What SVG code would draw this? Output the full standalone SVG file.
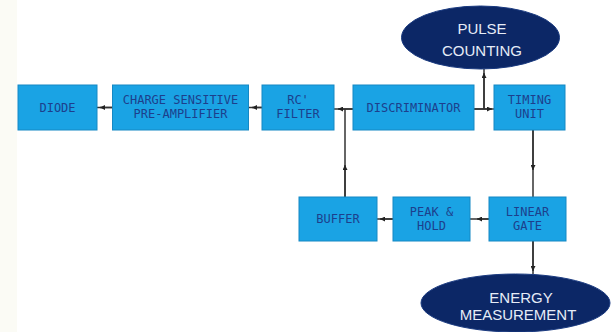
<svg xmlns="http://www.w3.org/2000/svg" width="611" height="332" viewBox="0 0 611 332">
<style>
.box{fill:#1aa3e4;stroke:#1588c4;stroke-width:1}
.bt{font-family:"DejaVu Sans Mono","Liberation Mono",monospace;font-size:12px;fill:#1d3f8c;text-anchor:middle;dominant-baseline:central}
.ell{fill:#0c2766;stroke:#1a3a80;stroke-width:1}
.et{font-family:"Liberation Sans",Arial,sans-serif;font-size:15px;fill:#e6ecf7;text-anchor:middle;dominant-baseline:central}
.ln{stroke:#333;stroke-width:1.5;fill:none}
</style>
<defs>
<marker id="ah" markerUnits="userSpaceOnUse" markerWidth="6" markerHeight="5" refX="5" refY="2.5" orient="auto">
<path d="M0,0 L5,2.5 L0,5 z" fill="#222"/>
</marker>
</defs>
<rect x="0" y="0" width="611" height="332" fill="#ffffff"/>
<rect x="0" y="0" width="17" height="332" fill="#fbfbf5"/>
<g id="connectors">
<line class="ln" x1="112" y1="107.5" x2="97" y2="107.5"/>
<line class="ln" x1="112" y1="107.5" x2="100" y2="107.5" marker-end="url(#ah)"/>
<line class="ln" x1="262" y1="107.5" x2="248" y2="107.5"/>
<line class="ln" x1="262" y1="107.5" x2="252" y2="107.5" marker-end="url(#ah)"/>
<line class="ln" x1="353" y1="109" x2="334" y2="109"/>
<line class="ln" x1="353" y1="109" x2="338" y2="109" marker-end="url(#ah)"/>
<line class="ln" x1="345" y1="109" x2="345" y2="197"/>
<line class="ln" x1="345" y1="197" x2="345" y2="165" marker-end="url(#ah)"/>
<line class="ln" x1="474" y1="109" x2="494" y2="109"/>
<line class="ln" x1="474" y1="109" x2="492" y2="109" marker-end="url(#ah)"/>
<line class="ln" x1="484" y1="109" x2="484" y2="69"/>
<line class="ln" x1="484" y1="109" x2="484" y2="73" marker-end="url(#ah)"/>
<line class="ln" x1="533" y1="130" x2="533" y2="197"/>
<line class="ln" x1="533" y1="130" x2="533" y2="170" marker-end="url(#ah)"/>
<line class="ln" x1="393" y1="219" x2="377" y2="219"/>
<line class="ln" x1="393" y1="219" x2="380" y2="219" marker-end="url(#ah)"/>
<line class="ln" x1="489" y1="219" x2="470" y2="219"/>
<line class="ln" x1="489" y1="219" x2="477" y2="219" marker-end="url(#ah)"/>
<line class="ln" x1="533" y1="241" x2="533" y2="274"/>
<line class="ln" x1="533" y1="241" x2="533" y2="271" marker-end="url(#ah)"/>
</g>
<g id="diode"><rect class="box" x="18" y="85" width="79" height="45"/><text class="bt" x="57.5" y="107.5">DIODE</text></g>
<g id="preamp"><rect class="box" x="112.5" y="85" width="136" height="45"/><text class="bt" x="180.5" y="100">CHARGE SENSITIVE</text><text class="bt" x="180.5" y="114">PRE-AMPLIFIER</text></g>
<g id="rcfilter"><rect class="box" x="262" y="85" width="72" height="45"/><text class="bt" x="298" y="100">RC'</text><text class="bt" x="298" y="114">FILTER</text></g>
<g id="discriminator"><rect class="box" x="353" y="85" width="121" height="45"/><text class="bt" x="413.5" y="107.5">DISCRIMINATOR</text></g>
<g id="timing"><rect class="box" x="494" y="85" width="71" height="45"/><text class="bt" x="529.5" y="100">TIMING</text><text class="bt" x="529.5" y="114">UNIT</text></g>
<g id="buffer"><rect class="box" x="299" y="197" width="78" height="44"/><text class="bt" x="338" y="219">BUFFER</text></g>
<g id="peakhold"><rect class="box" x="393" y="197" width="77" height="44"/><text class="bt" x="431.5" y="212">PEAK &amp;</text><text class="bt" x="431.5" y="226">HOLD</text></g>
<g id="lineargate"><rect class="box" x="489" y="197" width="77" height="44"/><text class="bt" x="527.5" y="212">LINEAR</text><text class="bt" x="527.5" y="226">GATE</text></g>
<g id="pulsecounting"><ellipse class="ell" cx="480.5" cy="37.5" rx="79" ry="31.5"/><text class="et" x="482" y="28">PULSE</text><text class="et" x="482" y="50">COUNTING</text></g>
<g id="energy"><ellipse class="ell" cx="515.5" cy="303" rx="94.5" ry="29"/><text class="et" x="521" y="297">ENERGY</text><text class="et" x="518" y="314">MEASUREMENT</text></g>
</svg>
